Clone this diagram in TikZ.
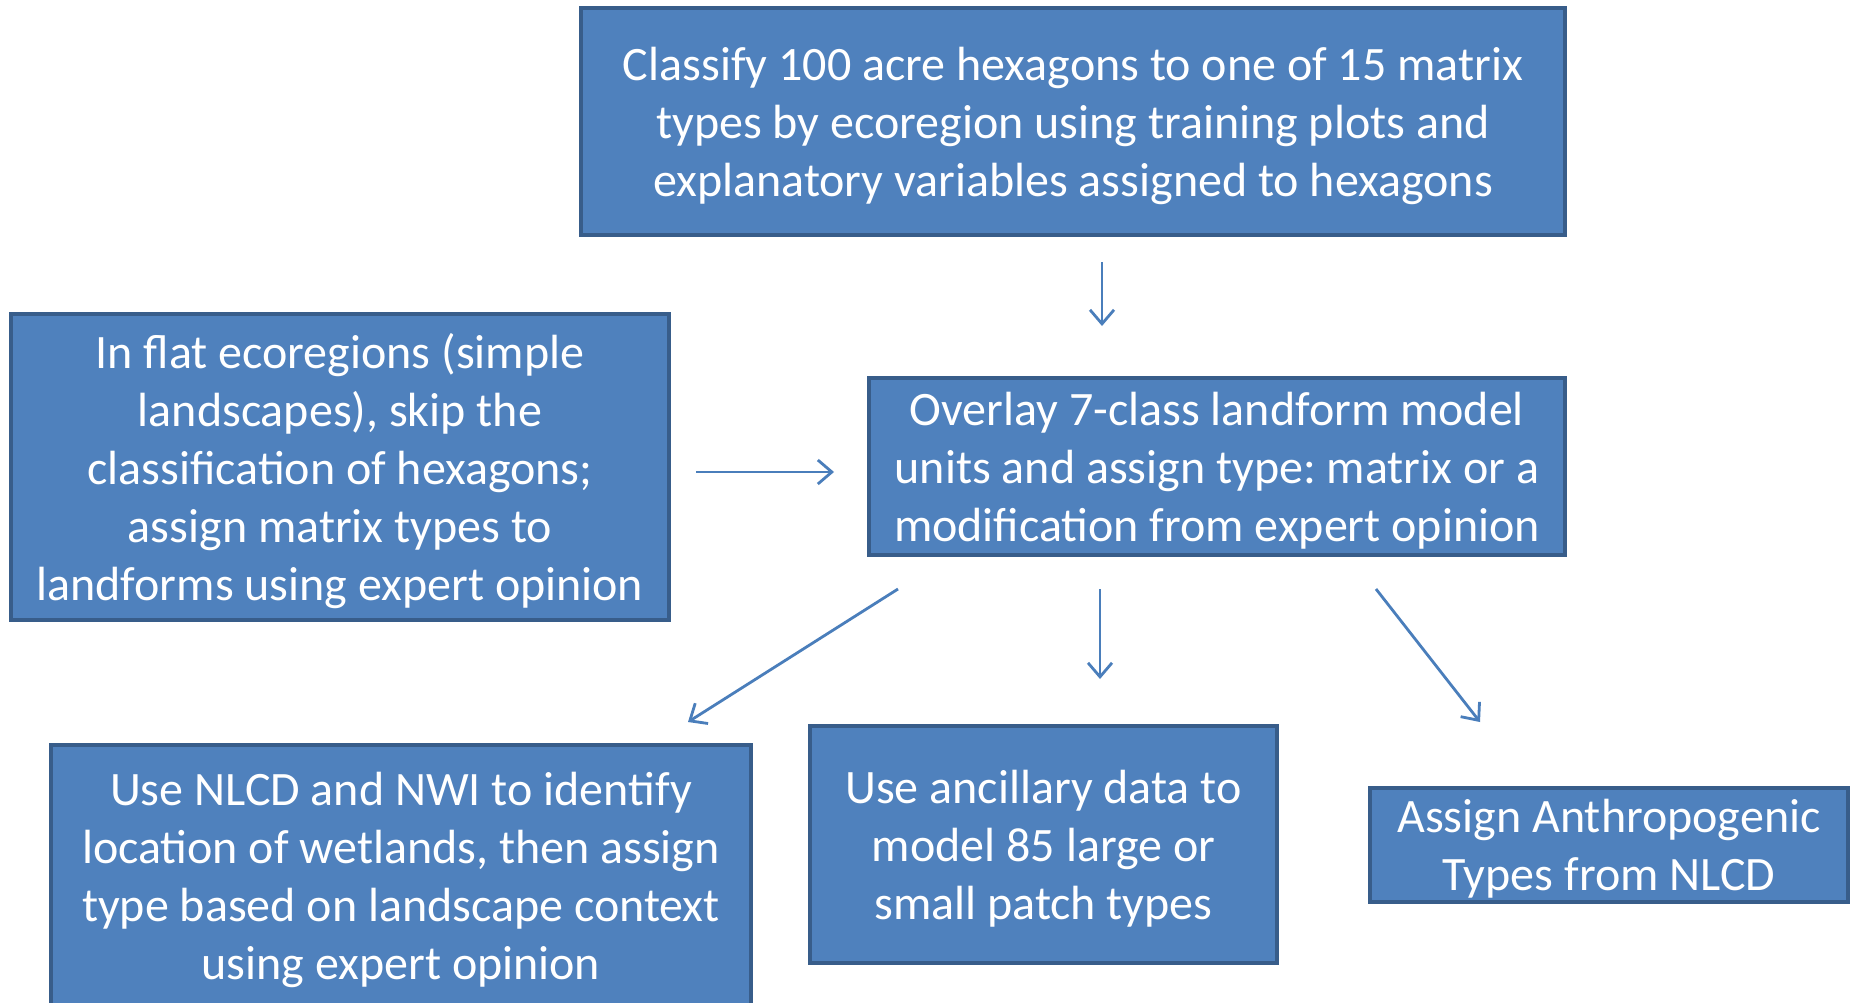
\documentclass[tikz,border=0pt]{standalone}
\usepackage{fontspec}
\setmainfont{Carlito}
\usetikzlibrary{arrows.meta,calc}
\definecolor{boxfill}{HTML}{4F81BD}
\definecolor{boxedge}{HTML}{385D8A}
\definecolor{arrowcol}{HTML}{4A7EBB}
\frenchspacing
\tikzset{
  stepbox/.style={draw=boxedge, fill=boxfill, line width=4pt, inner sep=0pt},
  steptext/.style={align=center, text=white, inner sep=0pt,
    font=\fontsize{48}{58}\selectfont},
  arr/.style={draw=arrowcol, line width=2.8pt,
    -{Straight Barb[length=14pt,width=24pt,line width=2.8pt]}}
}
\begin{document}
\begin{tikzpicture}[x=1pt,y=-1pt]
\useasboundingbox (0,0) rectangle (1852,1002);
\clip (0,0) rectangle (1852,1002);
\fill[white] (0,0) rectangle (1852,1002);

% process boxes
\node[stepbox, minimum width=984pt, minimum height=227pt] (top) at (1073,121.5) {};
\node[stepbox, minimum width=658pt, minimum height=306pt] (left) at (340,467) {};
\node[stepbox, minimum width=696pt, minimum height=177pt] (mid) at (1217,466.5) {};
\node[stepbox, minimum width=700pt, minimum height=262pt] (bl) at (401,876) {};
\node[stepbox, minimum width=467pt, minimum height=237pt] (bm) at (1043.5,844.5) {};
\node[stepbox, minimum width=478pt, minimum height=114pt] (br) at (1609,845) {};

% box texts
\node[steptext] (topt) at ([yshift=-4pt]top.center)
  {Classify 100 acre hexagons to one of 15 matrix\\types by ecoregion using training plots and\\explanatory variables assigned to hexagons};
\node[steptext] (leftt) at ([yshift=-4pt]left.center)
  {In flat ecoregions (simple\\landscapes), skip the\\classification of hexagons;\\assign matrix types to\\landforms using expert opinion};
\node[steptext] (midt) at ([yshift=-4pt]mid.center)
  {Overlay 7-class landform model\\units and assign type: matrix or a\\modification from expert opinion};
\node[steptext] (blt) at ([yshift=-4pt]bl.center)
  {Use NLCD and NWI to identify\\location of wetlands, then assign\\type based on landscape context\\using expert opinion};
\node[steptext] (bmt) at ([yshift=-4pt]bm.center)
  {Use ancillary data to\\model 85 large or\\small patch types};
\node[steptext] (brt) at ([yshift=-4pt]br.center)
  {Assign Anthropogenic\\Types from NLCD};

% connectors
\draw[arr, shorten <=25pt, shorten >=50pt] (top.south -| 1102,0) -- (mid.north -| 1102,0);
\draw[arr, shorten <=25pt, shorten >=33pt] (left.east |- 0,472) -- (mid.west |- 0,472);
\draw[arr] ([shift={(31,32)}]mid.south west) -- ([shift={(-65,-21)}]bl.north east);
\draw[arr, shorten <=32pt, shorten >=45pt] (mid.south -| 1100,0) -- (bm.north -| 1100,0);
\draw[arr] ([shift={(-191,32)}]mid.south east) -- ([shift={(112,-64)}]br.north west);
\end{tikzpicture}
\end{document}
